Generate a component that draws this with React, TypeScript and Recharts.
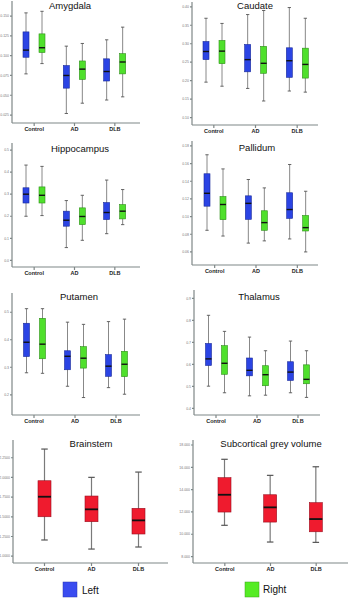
import React from "react";
import { ComposedChart, Bar, XAxis, YAxis } from "recharts";

const categories = ["Control", "AD", "DLB"];

// each entry: [min, q1, median, q3, max] per category
const amygdalaLeft = [[0.077, 0.098, 0.107, 0.130, 0.154], [0.027, 0.059, 0.075, 0.0875, 0.112], [0.044, 0.068, 0.080, 0.096, 0.120]];
const amygdalaRight = [[0.090, 0.104, 0.110, 0.1275, 0.156], [0.040, 0.070, 0.083, 0.0933, 0.1154], [0.048, 0.077, 0.092, 0.1025, 0.136]];
const caudateLeft = [[0.196, 0.257, 0.279, 0.306, 0.369], [0.179, 0.224, 0.257, 0.298, 0.379], [0.172, 0.209, 0.254, 0.289, 0.398]];
const caudateRight = [[0.185, 0.246, 0.280, 0.309, 0.355], [0.145, 0.220, 0.247, 0.293, 0.390], [0.169, 0.207, 0.244, 0.288, 0.369]];
const hippocampusLeft = [[0.200, 0.260, 0.300, 0.329, 0.432], [0.058, 0.155, 0.182, 0.223, 0.271], [0.121, 0.185, 0.217, 0.262, 0.364]];
const hippocampusRight = [[0.203, 0.260, 0.295, 0.333, 0.426], [0.091, 0.162, 0.199, 0.238, 0.295], [0.162, 0.188, 0.223, 0.253, 0.321]];
const pallidumLeft = [[0.0845, 0.1118, 0.1264, 0.1485, 0.170], [0.070, 0.0969, 0.115, 0.1235, 0.142], [0.0747, 0.098, 0.108, 0.127, 0.159]];
const pallidumRight = [[0.078, 0.0965, 0.1137, 0.1227, 0.154], [0.0725, 0.0845, 0.0932, 0.1066, 0.1325], [0.060, 0.0837, 0.0875, 0.1013, 0.1287]];
const putamenLeft = [[0.280, 0.339, 0.391, 0.460, 0.513], [0.231, 0.291, 0.340, 0.360, 0.464], [0.226, 0.267, 0.304, 0.346, 0.466]];
const putamenRight = [[0.278, 0.331, 0.384, 0.478, 0.513], [0.190, 0.297, 0.333, 0.375, 0.456], [0.202, 0.266, 0.311, 0.358, 0.475]];
const thalamusLeft = [[0.501, 0.595, 0.625, 0.695, 0.823], [0.457, 0.548, 0.573, 0.629, 0.724], [0.471, 0.527, 0.565, 0.612, 0.706]];
const thalamusRight = [[0.471, 0.555, 0.605, 0.685, 0.750], [0.460, 0.503, 0.553, 0.594, 0.662], [0.450, 0.512, 0.532, 0.598, 0.662]];
const brainstem = [[1.206, 1.501, 1.755, 1.958, 2.360], [1.091, 1.438, 1.595, 1.764, 2.001], [1.117, 1.282, 1.455, 1.608, 2.068]];
const subcortical = [[10.80, 11.99, 13.54, 15.07, 16.72], [9.30, 11.09, 12.41, 13.54, 15.28], [9.27, 10.22, 11.36, 12.83, 16.05]];

const amygdalaTicks = [0.025, 0.05, 0.075, 0.1, 0.125, 0.15];
const caudateTicks = [0.1, 0.15, 0.2, 0.25, 0.3, 0.35, 0.4];
const hippocampusTicks = [0, 0.1, 0.2, 0.3, 0.4, 0.5];
const pallidumTicks = [0.06, 0.08, 0.1, 0.12, 0.14, 0.16, 0.18];
const putamenTicks = [0.2, 0.3, 0.4, 0.5];
const thalamusTicks = [0.4, 0.5, 0.6, 0.7, 0.8, 0.9];
const brainstemTicks = [1.0, 1.25, 1.5, 1.75, 2.0, 2.25];
const subcorticalTicks = [8, 10, 12, 14, 16, 18];

const BLUE = "#2b44e4";
const BLUE_DARK = "#1a2a9a";
const GREEN = "#4fe02c";
const GREEN_DARK = "#2f8f1a";
const RED = "#ef1b2e";
const RED_DARK = "#9a1020";
const AXIS = "#7f8787";
const FONT = "'Liberation Sans', Arial, sans-serif";

type Series = { key: string; values: number[][]; fill: string; stroke: string };

function BoxShape(props: any) {
  const { x, y, width, height, stats, fill, stroke, capRatio, medW, whiskW } = props;
  if (!stats || x == null) return null;
  const [mn, q1, med, q3, mx] = stats;
  const top = Math.min(y, y + height);
  const h = Math.abs(height);
  const px = (v: number) => top + ((q3 - v) / (q3 - q1)) * h;
  const cx = x + width / 2;
  const cap = width * capRatio;
  return (
    <g>
      <line x1={cx} x2={cx} y1={px(mx)} y2={px(mn)} stroke="#7a7a7a" strokeWidth={whiskW} />
      <line x1={cx - cap / 2} x2={cx + cap / 2} y1={px(mx)} y2={px(mx)} stroke="#555" strokeWidth={whiskW} />
      <line x1={cx - cap / 2} x2={cx + cap / 2} y1={px(mn)} y2={px(mn)} stroke="#555" strokeWidth={whiskW} />
      <rect x={x} y={top} width={width} height={h} fill={fill} stroke={stroke} strokeWidth={0.6} />
      <line x1={x} x2={x + width} y1={px(med)} y2={px(med)} stroke="#111" strokeWidth={medW} />
    </g>
  );
}

type PanelProps = {
  left: number; top: number; w: number; h: number;
  plotTop: number; plotLeft: number; plotRight: number; plotBottom: number;
  padL: number; padR: number;
  domain: [number, number]; ticks: number[]; decimals: number;
  series: Series[]; barSize: number; barGap: number;
  capRatio: number; medW: number; whiskW: number;
};

function Panel(p: PanelProps) {
  const data = categories.map((c, i) => {
    const row: any = { cat: c };
    p.series.forEach((s) => {
      row[s.key] = [s.values[i][1], s.values[i][3]];
      row[s.key + "_s"] = s.values[i];
    });
    return row;
  });
  return (
    <div style={{ position: "absolute", left: p.left, top: p.top, width: p.w, height: p.h }}>
      <ComposedChart
        width={p.w}
        height={p.h}
        data={data}
        margin={{ top: p.plotTop, right: p.w - p.plotRight, bottom: 0, left: 0 }}
        barSize={p.barSize}
        barGap={p.barGap}
      >
        <XAxis
          dataKey="cat"
          type="category"
          height={p.h - p.plotBottom}
          padding={{ left: p.padL, right: p.padR }}
          stroke={AXIS}
          strokeWidth={1.2}
          tickSize={3}
          tickMargin={1}
          tick={{ fontSize: 5.5, fontWeight: 700, fill: "#222", fontFamily: FONT }}
          interval={0}
        />
        <YAxis
          type="number"
          width={p.plotLeft}
          domain={p.domain}
          ticks={p.ticks}
          allowDataOverflow
          stroke={AXIS}
          strokeWidth={1.2}
          tickSize={2}
          tickMargin={1}
          tickFormatter={(v: number) => v.toFixed(p.decimals)}
          tick={{ fontSize: 3.5, fill: "#777", fontFamily: FONT }}
          interval={0}
        />
        {p.series.map((s) => (
          <Bar
            key={s.key}
            dataKey={s.key}
            isAnimationActive={false}
            fill={s.fill}
            shape={(sp: any) => (
              <BoxShape
                {...sp}
                stats={sp.payload ? sp.payload[s.key + "_s"] : null}
                fill={s.fill}
                stroke={s.stroke}
                capRatio={p.capRatio}
                medW={p.medW}
                whiskW={p.whiskW}
              />
            )}
          />
        ))}
      </ComposedChart>
    </div>
  );
}

const lr = (l: number[][], r: number[][]): Series[] => [
  { key: "L", values: l, fill: BLUE, stroke: BLUE_DARK },
  { key: "R", values: r, fill: GREEN, stroke: GREEN_DARK },
];
const single = (v: number[][]): Series[] => [{ key: "V", values: v, fill: RED, stroke: RED_DARK }];

const pair = { barSize: 6, barGap: 10, capRatio: 0.55, medW: 1.4, whiskW: 0.9 };
const solo = { barSize: 13, barGap: 0, capRatio: 0.5, medW: 1.8, whiskW: 1.2 };

const titles = [
  { text: "Amygdala", x: 70, y: 5 },
  { text: "Caudate", x: 255, y: 5 },
  { text: "Hippocampus", x: 80, y: 148 },
  { text: "Pallidum", x: 257, y: 147 },
  { text: "Putamen", x: 79, y: 296 },
  { text: "Thalamus", x: 259, y: 296 },
  { text: "Brainstem", x: 91, y: 443 },
  { text: "Subcortical grey volume", x: 271, y: 443 },
];

export default function App() {
  return (
    <div style={{ position: "absolute", left: 0, top: 0, width: 350, height: 598, background: "#fff", overflow: "hidden", fontFamily: FONT }}>
      <Panel left={0} top={0} w={175} h={137} plotTop={1} plotLeft={12} plotRight={140} plotBottom={123} padL={2} padR={5}
        domain={[0.015, 0.169]} ticks={amygdalaTicks} decimals={3} series={lr(amygdalaLeft, amygdalaRight)} {...pair} />
      <Panel left={175} top={0} w={175} h={139} plotTop={2} plotLeft={17} plotRight={143} plotBottom={125} padL={1} padR={0}
        domain={[0.08, 0.413]} ticks={caudateTicks} decimals={2} series={lr(caudateLeft, caudateRight)} {...pair} />
      <Panel left={0} top={140} w={175} h={141} plotTop={3} plotLeft={12} plotRight={140} plotBottom={127} padL={2} padR={5}
        domain={[-0.03, 0.532]} ticks={hippocampusTicks} decimals={1} series={lr(hippocampusLeft, hippocampusRight)} {...pair} />
      <Panel left={175} top={140} w={175} h={139} plotTop={1} plotLeft={17} plotRight={143} plotBottom={125} padL={2} padR={0}
        domain={[0.0452, 0.1856]} ticks={pallidumTicks} decimals={2} series={lr(pallidumLeft, pallidumRight)} {...pair} />
      <Panel left={0} top={280} w={175} h={149} plotTop={13} plotLeft={12} plotRight={140} plotBottom={135} padL={1.5} padR={3.5}
        domain={[0.1265, 0.57]} ticks={putamenTicks} decimals={1} series={lr(putamenLeft, putamenRight)} {...pair} />
      <Panel left={175} top={280} w={175} h={149} plotTop={10} plotLeft={19} plotRight={145} plotBottom={135} padL={1.5} padR={1.5}
        domain={[0.37, 0.938]} ticks={thalamusTicks} decimals={1} series={lr(thalamusLeft, thalamusRight)} {...pair} />
      <Panel left={0} top={420} w={175} h={157} plotTop={20} plotLeft={13} plotRight={168} plotBottom={143} padL={8} padR={6}
        domain={[0.914, 2.475]} ticks={brainstemTicks} decimals={4} series={single(brainstem)} {...solo} />
      <Panel left={175} top={420} w={175} h={157} plotTop={20} plotLeft={18} plotRight={173} plotBottom={143} padL={9} padR={9}
        domain={[7.42, 18.45]} ticks={subcorticalTicks} decimals={3} series={single(subcortical)} {...solo} />

      <svg width={350} height={598} style={{ position: "absolute", left: 0, top: 0, pointerEvents: "none" }}>
        {titles.map((t) => (
          <text key={t.text} x={t.x} y={t.y} textAnchor="middle" dominantBaseline="central" fontSize={9.5} fill="#111" fontFamily={FONT}>
            {t.text}
          </text>
        ))}
        <rect x={63} y={582} width={14} height={15} fill="#3a4cf0" stroke="#2a36b0" strokeWidth={0.5} />
        <text x={82} y={590} dominantBaseline="central" fontSize={10} fill="#111" fontFamily={FONT}>Left</text>
        <rect x={245} y={582} width={14} height={15} fill="#55ec24" stroke="#3aa018" strokeWidth={0.5} />
        <text x={263} y={589} dominantBaseline="central" fontSize={10} fill="#111" fontFamily={FONT}>Right</text>
      </svg>
    </div>
  );
}
